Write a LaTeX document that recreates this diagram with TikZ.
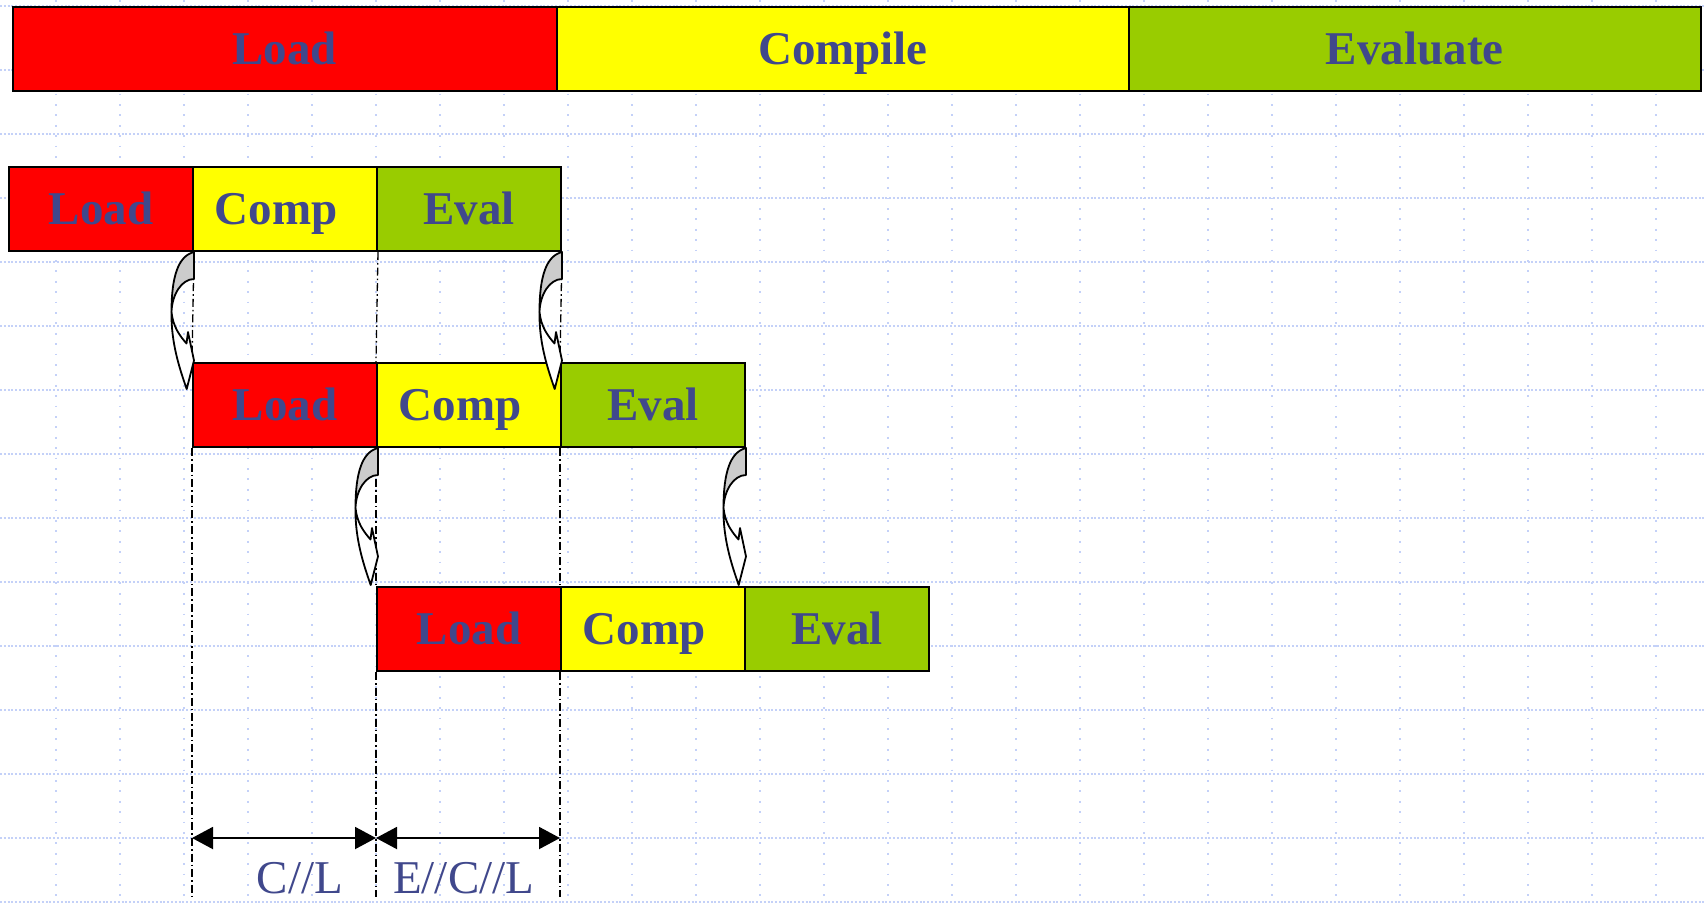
\documentclass[tikz,border=0pt]{standalone}
\usepackage{fontspec}
\setmainfont{Liberation Serif}
\usetikzlibrary{arrows.meta}
\definecolor{txtblue}{RGB}{64,72,140}
\definecolor{gridblue}{RGB}{196,209,248}
\definecolor{ldred}{RGB}{255,0,0}
\definecolor{cpyellow}{RGB}{255,255,0}
\definecolor{evgreen}{RGB}{153,204,0}
\definecolor{backgrey}{RGB}{204,204,204}
\begin{document}
\begin{tikzpicture}[x=0.5pt,y=-0.5pt,
  phase/.style={draw=black,line width=1pt,minimum height=42pt,inner sep=0pt,anchor=north west,
    font=\fontsize{23.5}{28}\selectfont\bfseries,text=txtblue,text height=15.6pt,text depth=0pt},
  rowbox/.style={phase,minimum width=92pt},
  comptext/.style={execute at begin node={\hspace*{-9pt}}},
  hgrid/.style={draw=gridblue,line width=0.55pt,dash pattern=on 1pt off 0.9pt},
  vgrid/.style={draw=gridblue,line width=0.6pt,dash pattern=on 0.9pt off 4.3pt},
  dashdot/.style={draw=black,line width=0.65pt,dash pattern=on 4pt off 1.5pt on 0.8pt off 1.5pt},
  dimarrow/.style={draw=black,line width=1pt,{Triangle[length=10.5pt,width=11pt]}-{Triangle[length=10.5pt,width=11pt]}},
  lab/.style={font=\fontsize{23.5}{28}\selectfont,text=txtblue,inner sep=0pt,anchor=base},
  curvarrow/.pic={
    \filldraw[fill=backgrey,draw=black,line width=0.9pt,line join=round]
      (0,0) .. controls (-16,4) and (-22.5,25) .. (-22.5,60)
      .. controls (-22,42) and (-12,27) .. (0,27) -- cycle;
    \filldraw[fill=white,draw=black,line width=0.9pt,line join=round]
      (-22.5,60) .. controls (-23,90) and (-15,115) .. (-7.3,137)
      -- (0,108.5) -- (-6,80) -- (-7.5,91.5)
      .. controls (-14,84) and (-21,75) .. (-22.5,60) -- cycle;
  }]
\useasboundingbox (0,0) rectangle (1705,902);
\fill[white] (0,0) rectangle (1705,902);
% grid
\foreach \k in {0,...,14} \draw[hgrid] (0,6+64*\k) -- (1705,6+64*\k);
\foreach \k in {0,...,25} \draw[vgrid] (56+64*\k,0) -- (56+64*\k,902);
% top bar
\node[phase,fill=ldred,minimum width=272.15pt] (tL) at (11.7,6) {Load};
\node[phase,fill=cpyellow,minimum width=286pt] (tC) at (556,6) {Compile};
\node[phase,fill=evgreen,minimum width=285.75pt] (tE) at (1128,6) {Evaluate};
% row 1
\node[rowbox,fill=ldred] (r1L) at (8,166) {Load};
\node[rowbox,fill=cpyellow,comptext] (r1C) at (192,166) {Comp};
\node[rowbox,fill=evgreen] (r1E) at (376,166) {Eval};
% row 2
\node[rowbox,fill=ldred] (r2L) at (192,362) {Load};
\node[rowbox,fill=cpyellow,comptext] (r2C) at (376,362) {Comp};
\node[rowbox,fill=evgreen] (r2E) at (560,362) {Eval};
% row 3
\node[rowbox,fill=ldred] (r3L) at (376,586) {Load};
\node[rowbox,fill=cpyellow,comptext] (r3C) at (560,586) {Comp};
\node[rowbox,fill=evgreen] (r3E) at (744,586) {Eval};
% bottom coordinates
\coordinate (b1) at (192,897);
\coordinate (b2) at (376,897);
\coordinate (b3) at (560,897);
\coordinate (m1) at (192,838);
\coordinate (m2) at (376,838);
\coordinate (m3) at (560,838);
% dash-dot guide lines
\draw[dashdot] (r1L.south east) -- (r2L.north west);
\draw[dashdot] (r2L.south west) -- (b1);
\draw[dashdot] (r1C.south east) -- (r2C.north west);
\draw[dashdot] (r2C.south west) -- (r3L.north west);
\draw[dashdot] (r3L.south west) -- (b2);
\draw[dashdot] (r1E.south east) -- (r2E.north west);
\draw[dashdot] (r2E.south west) -- (r3C.north west);
\draw[dashdot] (r3C.south west) -- (b3);
% curved arrows
\pic at (r1L.south east) {curvarrow};
\pic at (r1E.south east) {curvarrow};
\pic at (r2L.south east) {curvarrow};
\pic at (r2E.south east) {curvarrow};
% dimension arrows
\draw[dimarrow] (m1) -- (m2);
\draw[dimarrow] (m2) -- (m3);
\node[lab] (lab1) at (300,893) {C//L};
\node[lab] (lab2) at (463.7,893) {E//C//L};
\end{tikzpicture}
\end{document}
